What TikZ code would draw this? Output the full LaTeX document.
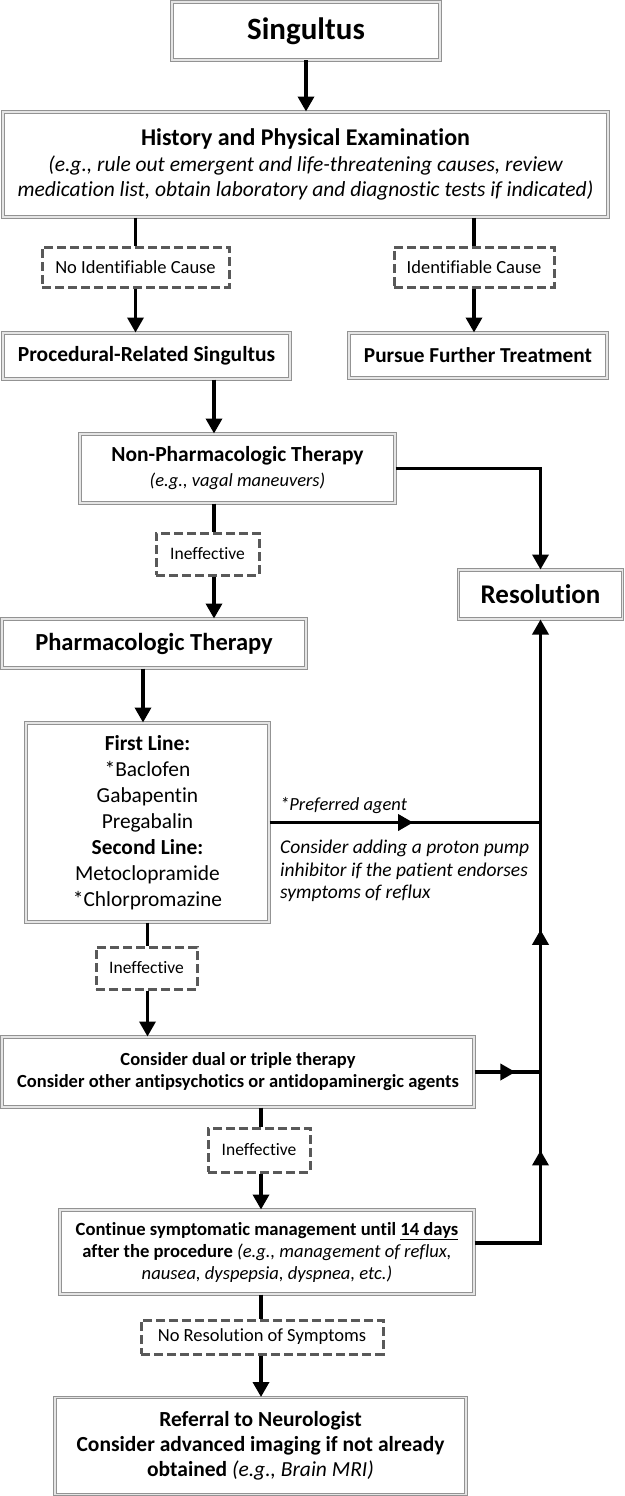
\documentclass[tikz,border=0pt]{standalone}
\usepackage{fontspec}
\setmainfont{Carlito}[Ligatures={NoCommon}]
\usetikzlibrary{arrows.meta,decorations.markings}
\begin{document}
\begin{tikzpicture}[x=1pt,y=-1pt,
  box/.style={draw=gray!85, double=gray!20, double distance=1.2pt, line width=1pt, fill=white, inner sep=0pt, align=center},
  dbox/.style={draw=black!65, dash pattern=on 9pt off 4pt, line width=3pt, fill=white, inner sep=0pt, align=center, font=\fontsize{18.5}{21}\selectfont},
  conn/.style={line width=3.5pt},
  tip/.style={-{Triangle[width=16pt,length=15pt]}},
  arr/.style={conn, tip},
  midarr/.style={postaction={decorate}, decoration={markings, mark=at position #1 with {\arrow{Triangle[width=16pt,length=15pt]}}}},
  lbl/.style={anchor=west, align=left, inner sep=0pt, font=\itshape\fontsize{19.5}{22.5}\selectfont}
]
\useasboundingbox (0,0) rectangle (624,1496);
\coordinate (c1) at (214,0);
\coordinate (c2) at (143,0);
\coordinate (c3) at (261,0);

\node[box, minimum width=268, minimum height=58, font=\bfseries\fontsize{31}{34}\selectfont] (sing) at (306,31) {Singultus};
\node[box, minimum width=605, minimum height=105, font=\fontsize{21.5}{25.5}\selectfont] (hpe) at (305.5,164.5)
  {{\bfseries\fontsize{24}{25.5}\selectfont History and Physical Examination}\\
   {\itshape (e.g., rule out emergent and life-threatening causes, review}\\
   {\itshape medication list, obtain laboratory and diagnostic tests if indicated)}};
\node[dbox, minimum width=187, minimum height=40] (ncause) at (135.5,267) {No Identifiable Cause};
\node[dbox, minimum width=160, minimum height=40] (icause) at (474,267) {Identifiable Cause};
\node[box, minimum width=287, minimum height=46, font=\bfseries\fontsize{21.5}{24}\selectfont] (proc) at (146.5,356) {Procedural-Related Singultus};
\node[box, minimum width=258, minimum height=45, font=\bfseries\fontsize{21.3}{24}\selectfont] (pursue) at (478,355.5) {Pursue Further Treatment};
\node[box, minimum width=315, minimum height=69, font=\fontsize{18.5}{25}\selectfont] (np) at (237.5,468.5)
  {{\bfseries\fontsize{21.5}{25}\selectfont Non-Pharmacologic Therapy}\\ {\itshape (e.g., vagal maneuvers)}};
\node[box, minimum width=164, minimum height=49, font=\bfseries\fontsize{27}{30}\selectfont] (res) at (540.5,594.5) {Resolution};
\node[dbox, minimum width=103, minimum height=42, font=\fontsize{17.5}{20}\selectfont] (ineff1) at (207.5,554) {Ineffective};
\node[box, minimum width=304, minimum height=49, font=\bfseries\fontsize{24.5}{28}\selectfont] (pharm) at (154,643.5) {Pharmacologic Therapy};
\node[box, minimum width=243, minimum height=199, font=\fontsize{21.4}{26}\selectfont] (fl) at (147.5,822.5)
  {{\bfseries First Line:}\\ *Baclofen\\ Gabapentin\\ Pregabalin\\ {\bfseries Second Line:}\\ Metoclopramide\\ *Chlorpromazine};
\node[dbox, minimum width=101, minimum height=42, font=\fontsize{17.5}{20}\selectfont] (ineff2) at (146.5,968) {Ineffective};
\node[box, minimum width=472, minimum height=70, font=\bfseries\fontsize{18.5}{22}\selectfont] (dual) at (238,1072)
  {Consider dual or triple therapy\\ Consider other antipsychotics or antidopaminergic agents};
\node[dbox, minimum width=102, minimum height=44, font=\fontsize{17.5}{20}\selectfont] (ineff3) at (259,1150) {Ineffective};
\node[box, minimum width=414, minimum height=84, font=\fontsize{18.6}{22}\selectfont] (cont) at (267,1252)
  {{\bfseries Continue symptomatic management until \underline{14 days}}\\
   {\bfseries after the procedure} {\itshape (e.g., management of reflux,}\\
   {\itshape nausea, dyspepsia, dyspnea, etc.)}};
\node[dbox, minimum width=242, minimum height=34] (nores) at (262,1337) {No Resolution of Symptoms};
\node[box, minimum width=411, minimum height=97, font=\bfseries\fontsize{21.5}{25}\selectfont] (ref) at (260.5,1446)
  {Referral to Neurologist\\ Consider advanced imaging if not already\\ obtained {\mdseries\itshape (e.g., Brain MRI)}};

\node[lbl, font=\itshape\fontsize{18.5}{22}\selectfont] (pref) at (280,806) {*Preferred agent};
\node[lbl] (ppi) at (280,871) {Consider adding a proton pump\\ inhibitor if the patient endorses\\ symptoms of reflux};

% connectors
\draw[arr] (sing.south) -- (sing.south |- hpe.north);
\draw[conn] (hpe.south -| ncause) -- (ncause.north);
\draw[arr] (ncause.south) -- (ncause.south |- proc.north);
\draw[conn] (hpe.south -| icause) -- (icause.north);
\draw[arr] (icause.south) -- (icause.south |- pursue.north);
\draw[arr] (proc.south -| c1) -- (np.north -| c1);
\draw[conn] (np.south -| c1) -- (ineff1.north -| c1);
\draw[arr] (ineff1.south -| c1) -- (pharm.north -| c1);
\draw[arr] (np.east) -| (res.north);
\draw[arr] (pharm.south -| c2) -- (fl.north -| c2);
\draw[conn] (fl.south) -- (fl.south |- ineff2.north);
\draw[arr] (fl.south |- ineff2.south) -- (fl.south |- dual.north);
\draw[conn] (dual.south -| c3) -- (ineff3.north -| c3);
\draw[arr] (ineff3.south -| c3) -- (cont.north -| c3);
\draw[conn] (cont.south -| c3) -- (nores.north -| c3);
\draw[arr] (nores.south -| c3) -- (ref.north -| c3);
\draw[conn, midarr=0.53] (fl.east) -- (fl.east -| res.south);
\draw[conn, midarr=0.62] (dual.east) -- (dual.east -| res.south);
\draw[arr, postaction={decorate}, decoration={markings,
    mark=at position 0.23 with {\arrow{Triangle[width=16pt,length=15pt]}},
    mark=at position 0.55 with {\arrow{Triangle[width=16pt,length=15pt]}}}]
  ([yshift=9pt]cont.east) -| (res.south);
\end{tikzpicture}
\end{document}
